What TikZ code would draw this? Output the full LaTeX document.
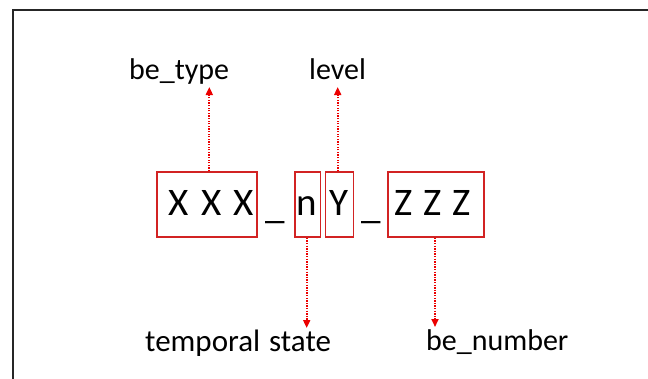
\documentclass[tikz,border=0pt]{standalone}
\usepackage{fontspec}
\setmainfont{Carlito}
\usetikzlibrary{arrows.meta}
\definecolor{boxred}{RGB}{210,35,35}
\definecolor{arrred}{RGB}{235,0,0}
\begin{document}
\begin{tikzpicture}[x=1pt,y=-1pt,
 segbox/.style={draw=boxred,line width=1.6pt,inner sep=0pt,minimum height=65pt},
 bigtxt/.style={inner sep=0pt,anchor=base,font=\fontsize{39}{44}\selectfont},
 lbl/.style={inner sep=0pt,anchor=base west,font=\fontsize{30}{36}\selectfont},
 pointer/.style={draw=arrred,line width=1.8pt,dash pattern=on 1.3pt off 1.3pt,-{Triangle[width=7pt,length=8pt]}}]
\useasboundingbox (0,0) rectangle (648,378);
\draw[line width=2pt,color=black!85] (13,380) -- (13,9.5) -- (650,9.5);
% boxes
\node[segbox,minimum width=100pt] (bx) at (207,204.5) {};
\node[segbox,minimum width=25.6pt] (bn) at (307.5,204.5) {};
\node[segbox,minimum width=28pt] (by) at (339.3,204.5) {};
\node[segbox,minimum width=96.3pt] (bz) at (435.85,204.5) {};
% texts
\node[bigtxt] (tx) at (211.5,215) {X\kern12.3pt X\kern12.3pt X};
\node[bigtxt] (u1) at (275.5,218) {\_};
\node[bigtxt] (tn) at (307,215) {n};
\node[bigtxt] (ty) at (339.4,215) {Y};
\node[bigtxt] (u2) at (371.5,218) {\_};
\node[bigtxt] (tz) at (432.5,215) {Z\kern10.8pt Z\kern10.8pt Z};
% labels
\node[lbl] (lt) at (129,79) {be\_type};
\node[lbl] (ll) at (309,79) {level};
\node[lbl,font=\fontsize{31}{36}\selectfont] (ls) at (145,351.7) {temporal\hspace{9pt}state};
\node[lbl] (lb) at (426,350) {be\_number};
% arrow tips
\coordinate (p1) at (209.3,87);
\coordinate (p2) at (337.7,87);
\coordinate (p3) at (306.7,328);
\coordinate (p4) at (435,327);
\draw[pointer] (bx.north -| p1) -- (p1);
\draw[pointer] (by.north -| p2) -- (p2);
\draw[pointer] (bn.south -| p3) -- (p3);
\draw[pointer] (bz.south -| p4) -- (p4);
\end{tikzpicture}
\end{document}
